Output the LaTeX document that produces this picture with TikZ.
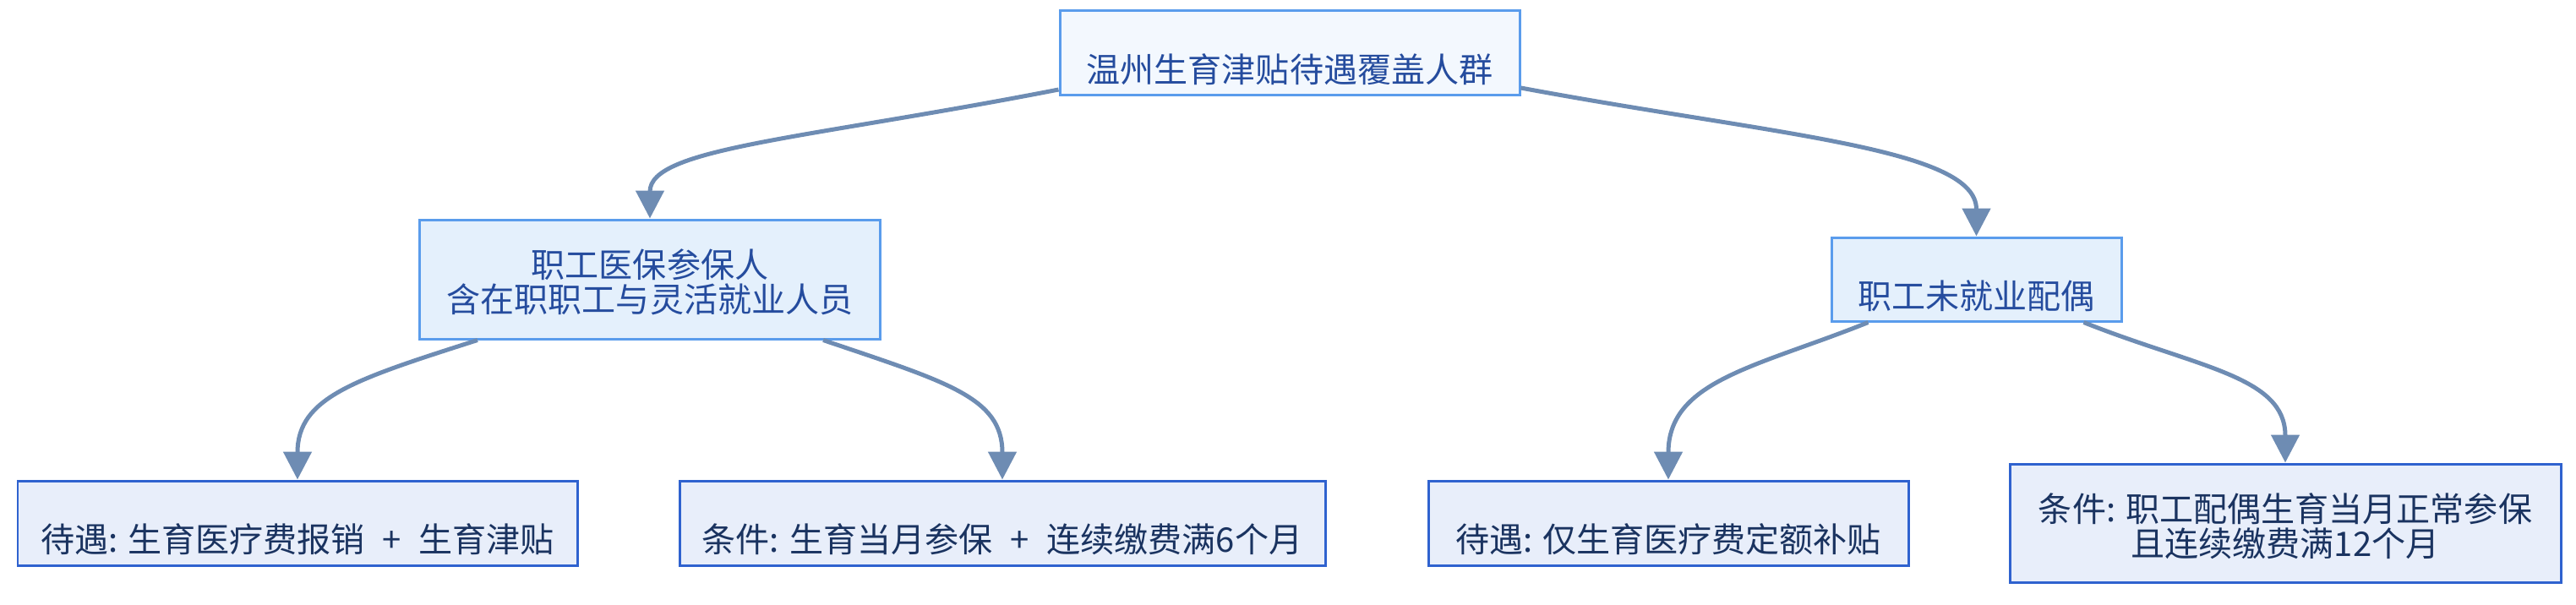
\documentclass[tikz,border=0pt]{standalone}
\usepackage{fontspec}
\newfontfamily\cjk{Noto Sans CJK SC}
\usetikzlibrary{arrows.meta}

\definecolor{edgeblue}{HTML}{6E8CB3}
\definecolor{topfill}{HTML}{F3F8FE}
\definecolor{midfill}{HTML}{E4F0FC}
\definecolor{lightborder}{HTML}{5A9CEC}
\definecolor{leaffill}{HTML}{E8EEFA}
\definecolor{leafborder}{HTML}{2F62CF}
\definecolor{midtext}{HTML}{254C9E}
\definecolor{leaftext}{HTML}{1A3360}

% word gaps, as in the reference
\newcommand{\cgap}{\hspace{0.3em}}
\newcommand{\wgap}{\hspace{0.52em}}

\tikzset{
  box/.style={draw, rectangle, line width=0.85pt, inner sep=0pt},
  topbox/.style={box, draw=lightborder, fill=topfill},
  midbox/.style={box, draw=lightborder, fill=midfill},
  leafbox/.style={box, draw=leafborder, fill=leaffill},
  txt/.style={font=\cjk\fontsize{11.4}{11.7}\selectfont, align=center, inner sep=0pt},
  midtxt/.style={txt, text=midtext},
  leaftxt/.style={txt, text=leaftext},
  edge/.style={draw=edgeblue, line width=0.05cm,
    -{Triangle[length=0.33cm, width=0.33cm]}}
}

\begin{document}
\begin{tikzpicture}

    \useasboundingbox (0,0) rectangle (30.48,-7.15);

    % Root
    \node[topbox, minimum width=5.44cm, minimum height=1.00cm] (top) at (15.26,-0.625) {};
    \node[midtxt] (top-t) at ([yshift=-0.195cm]top.center) {温州生育津贴待遇覆盖人群};

    % Employees insured
    \node[midbox, minimum width=5.45cm, minimum height=1.41cm] (midL) at (7.69,-3.305) {};
    \node[midtxt] (midL-t) at ([yshift=-0.03cm]midL.center) {职工医保参保人\\含在职职工与灵活就业人员};

    % Unemployed spouse
    \node[midbox, minimum width=3.43cm, minimum height=0.99cm] (midR) at (23.385,-3.305) {};
    \node[midtxt] (midR-t) at ([yshift=-0.195cm]midR.center) {职工未就业配偶};

    % Leaves under employees
    \node[leafbox, minimum width=6.62cm, minimum height=1.00cm] (leaf1) at (3.52,-6.19) {};
    \node[leaftxt] (leaf1-t) at ([yshift=-0.19cm]leaf1.center) {待遇:\cgap 生育医疗费报销\wgap+\wgap 生育津贴};

    \node[leafbox, minimum width=7.64cm, minimum height=1.00cm] (leaf2) at (11.86,-6.19) {};
    \node[leaftxt] (leaf2-t) at ([yshift=-0.19cm]leaf2.center) {条件:\cgap 生育当月参保\wgap+\wgap 连续缴费满6个月};

    % Leaves under spouse
    \node[leafbox, minimum width=5.68cm, minimum height=1.00cm] (leaf3) at (19.74,-6.19) {};
    \node[leaftxt] (leaf3-t) at ([yshift=-0.19cm]leaf3.center) {待遇:\cgap 仅生育医疗费定额补贴};

    \node[leafbox, minimum width=6.52cm, minimum height=1.40cm] (leaf4) at (27.04,-6.19) {};
    \node[leaftxt] (leaf4-t) at ([yshift=-0.035cm]leaf4.center) {条件:\cgap 职工配偶生育当月正常参保\\且连续缴费满12个月};

    % Root edges
    \draw[edge] ([yshift=0.08cm]top.south west) .. controls (9.5,-1.65) and (7.69,-1.75) .. (midL.north);
    \draw[edge] ([yshift=0.1cm]top.south east) .. controls (21.0,-1.6) and (23.385,-1.75) .. (midR.north);

    % Edges from employees
    \draw[edge] ([xshift=-2.04cm]midL.south) .. controls (4.2,-4.49) and (3.52,-4.7) .. (leaf1.north);
    \draw[edge] ([xshift=2.05cm]midL.south) .. controls (11.2,-4.52) and (11.86,-4.7) .. (leaf2.north);

    % Edges from spouse
    \draw[edge] ([xshift=-1.28cm]midR.south) .. controls (20.8,-4.34) and (19.74,-4.5) .. (leaf3.north);
    \draw[edge] ([xshift=1.27cm]midR.south) .. controls (26.0,-4.35) and (27.04,-4.45) .. (leaf4.north);

\end{tikzpicture}
\end{document}
